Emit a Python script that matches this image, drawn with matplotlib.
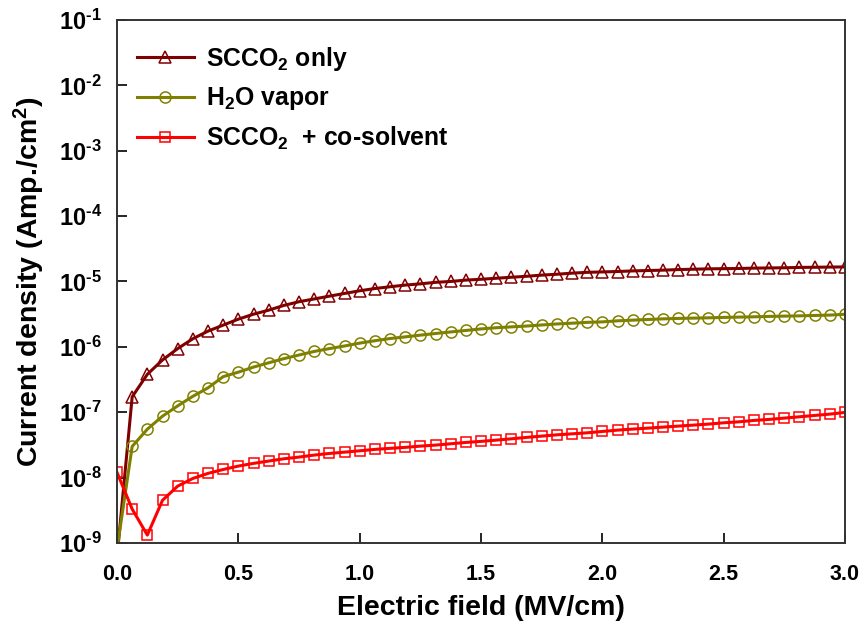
import numpy as np
import matplotlib
matplotlib.use("Agg")
import matplotlib.pyplot as plt

plt.rcParams['font.family'] = ['Liberation Sans', 'DejaVu Sans']
plt.rcParams['font.weight'] = 'bold'
plt.rcParams['mathtext.fontset'] = 'custom'
plt.rcParams['mathtext.rm'] = 'Liberation Sans:bold'
plt.rcParams['mathtext.bf'] = 'Liberation Sans:bold'
plt.rcParams['mathtext.it'] = 'Liberation Sans:bold'
plt.rcParams['mathtext.default'] = 'bf'

# field grid, 0 to 3 MV/cm in 0.0625 steps
field = np.linspace(0.0, 3.0, 49)

scco2_only = [6e-10, 1.72e-7, 3.8e-7, 6.3e-7, 9.4e-7, 1.33e-6, 1.74e-6, 2.15e-6, 2.65e-6,
              3.16e-6, 3.64e-6, 4.3e-6, 4.9e-6, 5.4e-6, 5.96e-6, 6.56e-6, 7.2e-6,
              7.8e-6, 8.3e-6, 8.8e-6, 9.2e-6, 9.7e-6, 1.0e-5, 1.05e-5, 1.08e-5,
              1.12e-5, 1.16e-5, 1.2e-5, 1.25e-5, 1.29e-5, 1.34e-5, 1.38e-5,
              1.40e-5, 1.42e-5, 1.45e-5, 1.47e-5, 1.49e-5, 1.52e-5, 1.54e-5, 1.56e-5,
              1.57e-5, 1.58e-5, 1.60e-5, 1.61e-5, 1.62e-5, 1.64e-5, 1.65e-5, 1.66e-5, 1.67e-5]

h2o_vapor = [8e-10, 3.0e-8, 5.5e-8, 8.7e-8, 1.25e-7, 1.75e-7, 2.36e-7, 3.5e-7, 4.1e-7,
             4.9e-7, 5.7e-7, 6.6e-7, 7.5e-7, 8.5e-7, 9.4e-7, 1.03e-6, 1.14e-6,
             1.24e-6, 1.34e-6, 1.42e-6, 1.51e-6, 1.60e-6, 1.69e-6, 1.78e-6, 1.88e-6,
             1.96e-6, 2.02e-6, 2.08e-6, 2.16e-6, 2.24e-6, 2.30e-6, 2.37e-6,
             2.41e-6, 2.50e-6, 2.56e-6, 2.62e-6, 2.68e-6, 2.72e-6, 2.75e-6, 2.78e-6,
             2.82e-6, 2.85e-6, 2.88e-6, 2.92e-6, 2.95e-6, 2.98e-6, 3.02e-6, 3.06e-6, 3.15e-6]

scco2_cosolvent = [1.2e-8, 3.3e-9, 1.32e-9, 4.5e-9, 7.4e-9, 9.7e-9, 1.16e-8, 1.33e-8, 1.5e-8,
                   1.65e-8, 1.79e-8, 1.94e-8, 2.06e-8, 2.21e-8, 2.34e-8, 2.45e-8, 2.57e-8,
                   2.70e-8, 2.80e-8, 2.90e-8, 3.03e-8, 3.14e-8, 3.29e-8, 3.45e-8, 3.58e-8,
                   3.74e-8, 3.92e-8, 4.12e-8, 4.31e-8, 4.51e-8, 4.67e-8, 4.84e-8, 5.08e-8,
                   5.32e-8, 5.52e-8, 5.71e-8, 5.92e-8, 6.13e-8, 6.35e-8, 6.58e-8, 6.89e-8,
                   7.13e-8, 7.49e-8, 7.76e-8, 8.13e-8, 8.51e-8, 8.93e-8, 9.35e-8, 9.93e-8]

labels = ['SCCO$_2$ only', 'H$_2$O vapor', 'SCCO$_2$  + co-solvent']
colors = ['#800000', '#808000', '#ff0000']
markers = ['^', 'o', 's']
msizes = [8.5, 8, 7]

x_ticks = [0.0, 0.5, 1.0, 1.5, 2.0, 2.5, 3.0]
y_exponents = [-9, -8, -7, -6, -5, -4, -3, -2, -1]

fig = plt.figure(figsize=(8.68, 6.28), dpi=100)
ax = fig.add_axes([0.1348, 0.1354, 0.8387, 0.8328])

for ys, lab, c, m, ms in zip([scco2_only, h2o_vapor, scco2_cosolvent], labels, colors, markers, msizes):
    ax.plot(field, ys, color=c, lw=2.2, marker=m, ms=ms, mfc='none', mec=c, mew=1.1, label=lab)

ax.set_yscale('log')
ax.set_xlim(0, 3.0)
ax.set_ylim(1e-9, 1e-1)
ax.set_xticks(x_ticks)
ax.set_xticklabels(['%.1f' % t for t in x_ticks])
ax.set_yticks([10.0 ** e for e in y_exponents])
ax.set_yticklabels([r'$10^{\text{-}%d}$' % -e for e in y_exponents])
ax.yaxis.set_minor_locator(matplotlib.ticker.NullLocator())

ax.tick_params(axis='both', direction='in', length=7, width=1.2, top=False, right=False)
ax.tick_params(axis='x', labelsize=15.5, pad=15)
ax.tick_params(axis='y', labelsize=17, pad=11)
for sp in ax.spines.values():
    sp.set_linewidth(1.4)
    sp.set_color('#333333')

ax.set_xlabel('Electric field (MV/cm)', fontsize=20.5, fontweight='bold', labelpad=7)
ax.set_ylabel('Current density (Amp./cm$^2$)', fontsize=20.5, fontweight='bold', labelpad=8)

ax.legend(loc='upper left', bbox_to_anchor=(0.027, 0.952), frameon=False, fontsize=17.8,
          handlelength=2.3, handletextpad=0.5, labelspacing=0.5, borderpad=0, borderaxespad=0)

fig.savefig('out.png', dpi=100)
